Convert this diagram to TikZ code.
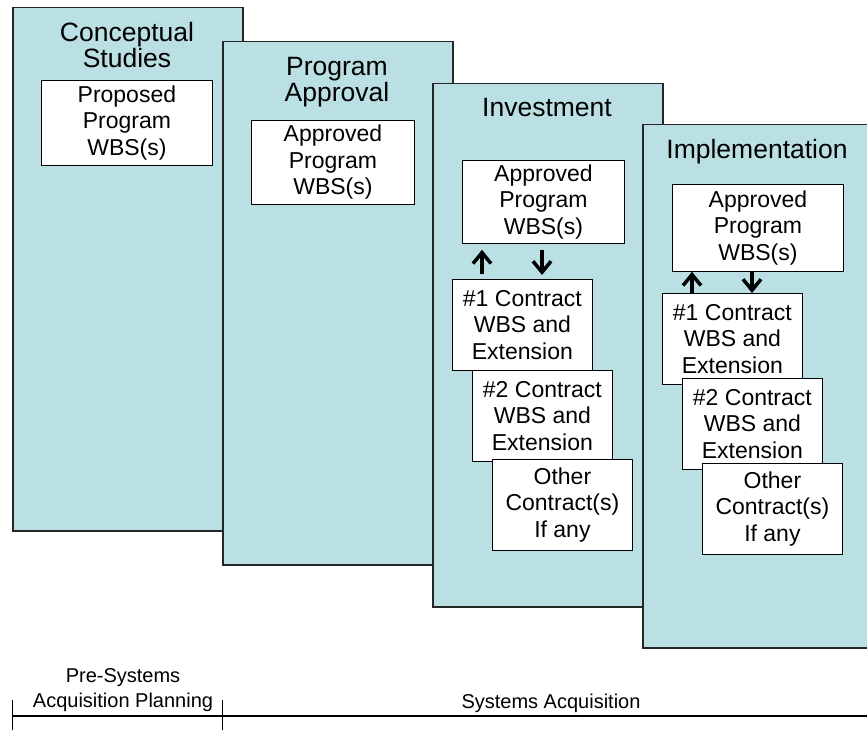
\documentclass[tikz,border=0pt]{standalone}
\usepackage{fontspec}
\setmainfont{Liberation Sans}
\usetikzlibrary{arrows.meta, positioning, calc}
\definecolor{phasefill}{RGB}{187,224,227}

\begin{document}
\begin{tikzpicture}[
  x=1pt, y=-1pt,
  phase/.style={draw=black!85, line width=1.5pt, fill=phasefill, inner sep=0pt,
    minimum width=230pt, minimum height=523pt, anchor=north west},
  title/.style={align=center, font=\fontsize{26.5}{25.5}\selectfont},
  wbs/.style={draw, thick, fill=white, align=center, anchor=north west,
    inner sep=0pt, font=\fontsize{23}{26.5}\selectfont},
  contract/.style={wbs, minimum width=140pt, minimum height=91pt},
  flow/.style={line width=3.5pt, -{Straight Barb[length=11pt, width=18pt]}},
  phaselabel/.style={align=center, font=\fontsize{20}{25}\selectfont},
]
  \useasboundingbox (0,0) rectangle (867,730);

  % Phases
  \foreach \i/\x/\y in {1/12/7, 2/222/41, 3/432/83, 4/642/124} {
    \node[phase] (P\i) at (\x,\y) {};
  }
  \node[title] (T1) at (127,45) {Conceptual\\Studies};
  \node[title] (T2) at (337,82) {Program\\Approval};
  \node[title] (T3) at (547,108) {Investment};
  \node[title] (T4) at (757,152) {Implementation};

  % Program WBS boxes
  \node[wbs, minimum width=171pt, minimum height=85pt] (B1) at (41,80) {Proposed\\Program\\WBS(s)};
  \node[wbs, minimum width=163pt, minimum height=84pt] (B2) at (251,120) {Approved\\Program\\WBS(s)};
  \node[wbs, minimum width=162pt, minimum height=83pt] (IA) at (462,160) {Approved\\Program\\WBS(s)};
  \node[wbs, minimum width=171pt, minimum height=87pt] (MA) at (672,184) {Approved\\Program\\WBS(s)};

  % Contract boxes: investment
  \node[contract] (IC1) at (452,279) {\#1 Contract\\WBS and\\Extension};
  \node[contract] (IC2) at (472,370) {\#2 Contract\\WBS and\\Extension};
  \node[contract] (IC3) at (492,459) {Other\\Contract(s)\\If any};

  % Contract boxes: implementation
  \node[contract] (MC1) at (662,293) {\#1 Contract\\WBS and\\Extension};
  \node[contract] (MC2) at (682,378) {\#2 Contract\\WBS and\\Extension};
  \node[contract] (MC3) at (702,463) {Other\\Contract(s)\\If any};

  % Arrows between program and contract WBS
  \draw[flow] ($(IC1.north west)+(30,-5)$) -- ($(IC1.north west |- IA.south)+(30,6)$);
  \draw[flow] ($(IC1.north west |- IA.south)+(90,6)$) -- ($(IC1.north west)+(90,-4)$);
  \draw[flow] ($(MC1.north west)+(30,0)$) -- ($(MC1.north west |- MA.south)+(30,0)$);
  \draw[flow] ($(MC1.north west |- MA.south)+(90,0)$) -- ($(MC1.north west)+(90,0)$);

  % Time line
  \coordinate (t0) at (12,716);
  \coordinate (t1) at (222,716);
  \coordinate (tend) at (867,716);
  \draw[line width=1.5pt] (t0) -- (tend);
  \draw[thick] ($(t0)+(0,-16)$) -- ($(t0)+(0,14)$);
  \draw[thick] ($(t1)+(0,-16)$) -- ($(t1)+(0,14)$);
  \node[phaselabel] (L1) at (123,690) {Pre-Systems\\Acquisition Planning};
  \node[phaselabel] (L2) at (551,703) {Systems Acquisition};
\end{tikzpicture}
\end{document}
